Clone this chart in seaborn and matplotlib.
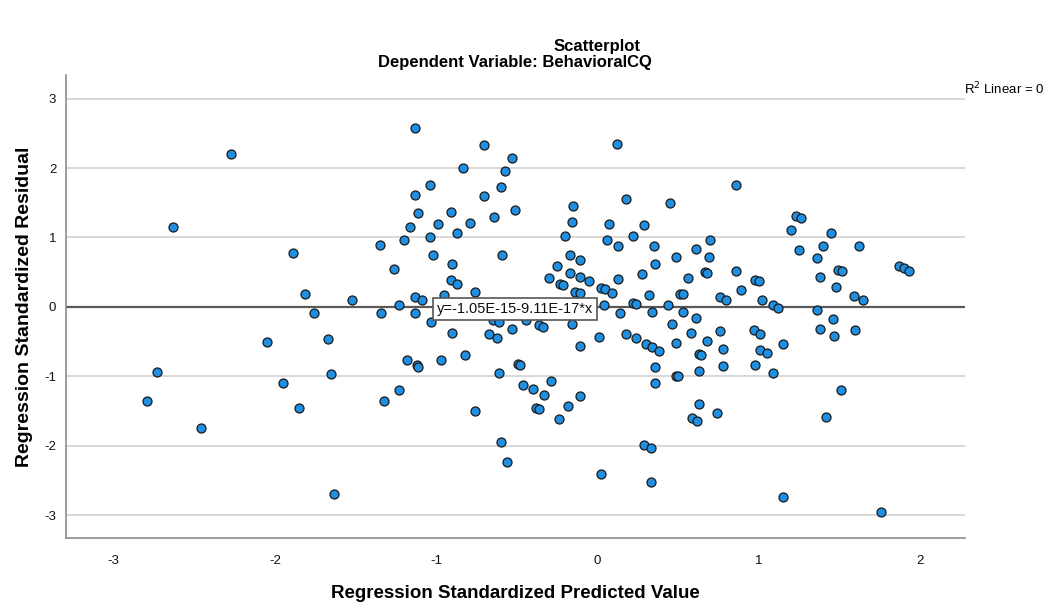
import matplotlib
matplotlib.use("Agg")
import matplotlib.pyplot as plt
import seaborn as sns
import numpy as np
import pandas as pd

# Regression standardized predicted values (x) and residuals (y)
pred_left = [-2.27, -2.63, -1.89, -1.81, -1.52, -1.76, -2.05, -1.67, -2.73, -1.65,
             -1.95, -2.79, -1.85, -2.46, -1.63]
resid_left = [2.20, 1.15, 0.77, 0.19, 0.10, -0.09, -0.50, -0.46, -0.94, -0.97,
              -1.10, -1.36, -1.46, -1.74, -2.69]

pred_mid_top = [-1.13, -0.70, 0.12, -0.53, -0.83, -0.57, -1.04, -1.13, -0.70, -0.60,
                0.18, -0.15, -1.11, -0.91, -0.51, -0.64, -0.79, -0.99, -0.16, 0.07,
                0.29, -1.16, -0.87, -1.04, -0.20, 0.22, -1.20, 0.06, -1.35, 0.13,
                0.35, -1.02, -0.59, -0.17, -0.11, -0.90, -0.25, 0.36, -1.26, 0.28,
                -0.17, -0.30, -0.11, 0.13, -0.91, -0.23, -0.21, -0.87, -0.05, 0.02,
                0.05, 0.09, -0.14, -0.11, -0.76, -0.95, -1.13, -1.09, 0.32, -1.23,
                0.04, 0.22, 0.24, 0.34, -1.34, -1.13, 0.14]
resid_mid_top = [2.58, 2.33, 2.35, 2.14, 2.00, 1.95, 1.75, 1.61, 1.60, 1.73,
                 1.56, 1.46, 1.35, 1.36, 1.39, 1.30, 1.21, 1.20, 1.22, 1.19,
                 1.18, 1.15, 1.07, 1.01, 1.02, 1.02, 0.96, 0.96, 0.89, 0.88,
                 0.88, 0.74, 0.74, 0.74, 0.67, 0.62, 0.59, 0.62, 0.54, 0.47,
                 0.49, 0.41, 0.43, 0.40, 0.38, 0.33, 0.31, 0.33, 0.37, 0.27,
                 0.25, 0.20, 0.21, 0.20, 0.21, 0.17, 0.14, 0.10, 0.17, 0.02,
                 0.02, 0.06, 0.04, -0.08, -0.09, -0.09, -0.09]

pred_mid_bot = [-1.03, -0.90, -0.67, -0.62, -0.53, -0.65, -0.61, -0.44, -0.36, -0.34,
                -0.16, -0.11, 0.01, 0.18, 0.24, 0.30, 0.34, 0.38, 0.36, 0.36,
                -1.18, -1.12, -1.11, -0.97, -0.82, -0.61, -0.49, -0.48, -0.46, -0.40,
                -0.29, -0.33, -0.38, -0.36, -0.11, -0.18, -0.24, -1.32, -1.23, -0.76,
                -0.60, -0.56, 0.02, 0.29, 0.33, 0.33]
resid_mid_bot = [-0.22, -0.37, -0.39, -0.45, -0.32, -0.19, -0.22, -0.19, -0.26, -0.29,
                 -0.25, -0.56, -0.44, -0.39, -0.45, -0.54, -0.58, -0.64, -0.86, -1.09,
                 -0.77, -0.84, -0.86, -0.77, -0.70, -0.95, -0.83, -0.84, -1.12, -1.19,
                 -1.07, -1.27, -1.46, -1.47, -1.29, -1.43, -1.62, -1.35, -1.20, -1.50,
                 -1.94, -2.23, -2.41, -1.99, -2.03, -2.52]

pred_right = [0.86, 0.45, 1.23, 1.26, 1.20, 1.45, 0.70, 1.25, 1.40, 1.62,
              0.61, 0.49, 0.69, 1.36, 0.67, 0.68, 0.86, 1.49, 1.52, 1.87,
              1.90, 1.93, 0.56, 1.38, 0.98, 1.00, 0.89, 1.48, 0.51, 0.53,
              0.76, 0.80, 1.02, 1.59, 1.65, 0.44, 1.09, 1.12, 0.53, 1.36,
              0.61, 1.46, 0.46, 0.58, 0.76, 0.97, 1.01, 1.38, 1.47, 1.60,
              0.49, 0.68, 0.78, 0.63, 0.64, 1.01, 1.05, 1.15, 0.63, 0.78,
              0.98, 1.09, 0.49, 0.50, 1.51, 0.63, 0.74, 0.59, 0.62, 1.42,
              1.15, 1.76]
resid_right = [1.75, 1.49, 1.31, 1.28, 1.10, 1.07, 0.96, 0.82, 0.88, 0.88,
               0.83, 0.72, 0.72, 0.70, 0.50, 0.49, 0.52, 0.53, 0.51, 0.59,
               0.56, 0.52, 0.41, 0.43, 0.39, 0.37, 0.24, 0.29, 0.19, 0.19,
               0.14, 0.10, 0.10, 0.16, 0.10, 0.03, 0.02, -0.02, -0.07, -0.05,
               -0.16, -0.18, -0.24, -0.38, -0.35, -0.34, -0.39, -0.32, -0.42, -0.34,
               -0.52, -0.49, -0.61, -0.68, -0.69, -0.62, -0.67, -0.54, -0.92, -0.85,
               -0.84, -0.96, -0.99, -1.00, -1.20, -1.40, -1.53, -1.60, -1.64, -1.58,
               -2.74, -2.96]

fit_intercept = -1.05e-15
fit_slope = -9.11e-17
fit_label = "y=-1.05E-15-9.11E-17*x"
r2_label = "R$^2$ Linear = 0"
y_ticks = [-3, -2, -1, 0, 1, 2, 3]
x_ticks = [-3, -2, -1, 0, 1, 2]

df = pd.DataFrame({
    "pred": pred_left + pred_mid_top + pred_mid_bot + pred_right,
    "resid": resid_left + resid_mid_top + resid_mid_bot + resid_right,
})

sns.set_style("white")
plt.rcParams["font.family"] = ["Liberation Sans", "DejaVu Sans"]
plt.rcParams["axes.unicode_minus"] = False
plt.rcParams["text.color"] = "black"
plt.rcParams["axes.labelcolor"] = "black"

fig = plt.figure(figsize=(10.48, 6.04), dpi=100)
ax = fig.add_axes([66 / 1048, 66 / 604, (965 - 66) / 1048, (538 - 75) / 604])

xlim = (-3.295, 2.28)
ax.set_xlim(*xlim)
ax.set_ylim(-3.33, 3.34)

for t in y_ticks:
    ax.axhline(t, color="#d2d2d2", lw=1.2, zorder=0)

xs = np.array(xlim)
ax.plot(xs, fit_intercept + fit_slope * xs, color="#5a5a5a", lw=1.6, zorder=1)

sns.scatterplot(data=df, x="pred", y="resid", ax=ax, color="#1e8fe1",
                edgecolor="#1a1a1a", linewidth=0.9, s=42, zorder=3, legend=False)

ax.text(-0.51, -0.03, fit_label, ha="center", va="center", fontsize=10.5,
        color="#111111", zorder=5,
        bbox=dict(boxstyle="square,pad=0.25", fc="white", ec="#555555", lw=1.2))

ax.set_xticks(x_ticks)
ax.set_yticks(y_ticks)
ax.tick_params(axis="both", length=0, labelsize=9.5, colors="#111111")
ax.tick_params(axis="x", pad=12)
ax.tick_params(axis="y", pad=7)

for side in ["top", "right"]:
    ax.spines[side].set_visible(False)
for side in ["left", "bottom"]:
    ax.spines[side].set_color("#8c8c8c")
    ax.spines[side].set_linewidth(1.2)

ax.set_xlabel("Regression Standardized Predicted Value", fontsize=13.5,
              fontweight="bold", labelpad=13)
ax.set_ylabel("Regression Standardized Residual", fontsize=14,
              fontweight="bold", labelpad=8)

fig.text(597 / 1048, 1 - 47 / 604, "Scatterplot", ha="center", va="center",
         fontsize=12, fontweight="bold")
fig.text(515 / 1048, 1 - 63 / 604, "Dependent Variable: BehavioralCQ", ha="center",
         va="center", fontsize=12, fontweight="bold")
fig.text(1 - 4 / 1048, 1 - 89 / 604, r2_label, ha="right", va="center", fontsize=9.5)

fig.savefig("out.png", dpi=100)
